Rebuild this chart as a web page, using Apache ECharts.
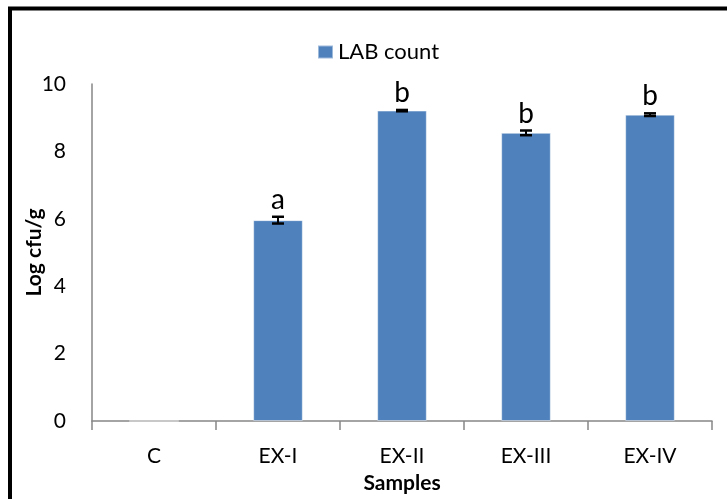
<!DOCTYPE html>
<html>
<head>
<meta charset="utf-8">
<script src="https://cdn.jsdelivr.net/npm/echarts@6/dist/echarts.min.js"></script>
<style>html,body{margin:0;padding:0;background:#fff;}#c{width:727px;height:499px;}</style>
</head>
<body>
<div id="c"></div>
<script>
var categories = ['C', 'EX-I', 'EX-II', 'EX-III', 'EX-IV'];
var labCount = [0, 5.96, 9.21, 8.55, 9.09];
var labError = [0, 0.10, 0.02, 0.07, 0.04];
var letters = ['', 'a', 'b', 'b', 'b'];
var yTicks = [0, 2, 4, 6, 8, 10];

var FONT = 'Lato';
var chart = echarts.init(document.getElementById('c'), null, {renderer: 'canvas'});
var errData = categories.map(function (c, i) { return [i, labCount[i], labError[i]]; });

chart.setOption({
  animation: false,
  backgroundColor: '#fff',
  textStyle: {fontFamily: FONT},
  graphic: [{
    type: 'rect', z: 100,
    shape: {x: 10, y: 8.5, width: 800, height: 600},
    style: {fill: null, stroke: '#000', lineWidth: 4}
  }],
  legend: {
    data: ['LAB count'],
    left: 312, top: 36,
    itemWidth: 15, itemHeight: 13, itemGap: 8,
    icon: 'rect',
    textStyle: {fontFamily: FONT, fontSize: 22, color: '#000'}
  },
  grid: {left: 92, right: 15, top: 84, bottom: 76, containLabel: false},
  xAxis: {
    type: 'category',
    data: categories,
    name: 'Samples',
    nameLocation: 'middle',
    nameGap: 52,
    nameMoveOverlap: false,
    nameTextStyle: {fontFamily: FONT, fontWeight: 'bold', fontSize: 21, color: '#000'},
    axisLine: {lineStyle: {color: '#868686', width: 1.5}},
    axisTick: {show: true, length: 9, lineStyle: {color: '#868686', width: 1.5}},
    axisLabel: {fontFamily: FONT, fontSize: 21, color: '#000', margin: 25},
    splitLine: {show: false}
  },
  yAxis: {
    type: 'value',
    min: yTicks[0], max: yTicks[yTicks.length - 1], interval: 2,
    name: 'Log cfu/g',
    nameLocation: 'middle',
    nameGap: 47,
    nameMoveOverlap: false,
    nameTextStyle: {fontFamily: FONT, fontWeight: 'bold', fontSize: 21, color: '#000'},
    axisLine: {show: true, lineStyle: {color: '#868686', width: 1.5}},
    axisTick: {show: false},
    axisLabel: {fontFamily: FONT, fontSize: 21, color: '#000', margin: 26},
    splitLine: {show: false}
  },
  series: [{
    name: 'LAB count',
    type: 'bar',
    data: labCount,
    barWidth: '40%',
    itemStyle: {color: '#4F81BD', borderColor: 'rgba(255,255,255,0.45)', borderWidth: 1}
  }, {
    name: 'err',
    type: 'custom',
    data: errData,
    z: 10,
    renderItem: function (params, api) {
      var i = api.value(0), v = api.value(1), e = api.value(2);
      var letter = letters[i];
      var top = api.coord([i, v + e]);
      var bot = api.coord([i, v - e]);
      var hw = 6;
      var children = [];
      if (e > 0) {
        children.push({type: 'line', shape: {x1: top[0], y1: top[1], x2: bot[0], y2: bot[1]}, style: {stroke: '#000', lineWidth: 2}});
        children.push({type: 'line', shape: {x1: top[0] - hw, y1: top[1], x2: top[0] + hw, y2: top[1]}, style: {stroke: '#000', lineWidth: 2.5}});
        children.push({type: 'line', shape: {x1: bot[0] - hw, y1: bot[1], x2: bot[0] + hw, y2: bot[1]}, style: {stroke: '#000', lineWidth: 2.5}});
      }
      if (letter) {
        children.push({type: 'text', style: {text: letter, x: top[0], y: top[1] - 3, align: 'center', verticalAlign: 'bottom', font: '28px ' + FONT, fill: '#000'}});
      }
      return {type: 'group', children: children};
    }
  }]
});
</script>
</body>
</html>
